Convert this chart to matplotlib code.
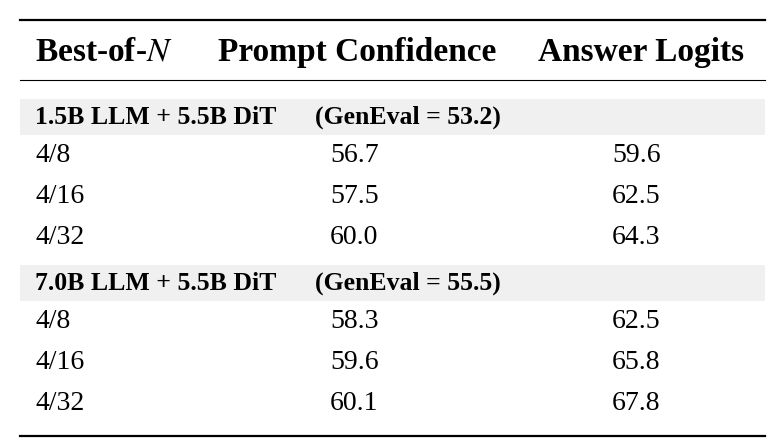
import matplotlib.pyplot as plt
from matplotlib.patches import Rectangle

plt.rcParams['font.family'] = ['Liberation Serif', 'DejaVu Serif']
plt.rcParams['mathtext.fontset'] = 'stix'

columns = ["Best-of-$N$", "Prompt Confidence", "Answer Logits"]
groups = ["1.5B LLM + 5.5B DiT", "7.0B LLM + 5.5B DiT"]
geneval = [53.2, 55.5]
best_of_n = ["4/8", "4/16", "4/32"]
prompt_conf = [[56.7, 57.5, 60.0], [58.3, 59.6, 60.1]]
answer_logits = [[59.6, 62.5, 64.3], [62.5, 65.8, 67.8]]

fig = plt.figure(figsize=(7.82, 4.48), dpi=100)
ax = fig.add_axes([0, 0, 1, 1])
ax.set_xlim(0, 782)
ax.set_ylim(448, 0)
ax.axis("off")

left, right = 20, 765
ax.plot([left, right], [20, 20], color="black", lw=1.6)
ax.plot([left, right], [80, 80], color="black", lw=0.8)
ax.plot([left, right], [436, 436], color="black", lw=1.6)

header_x = [35, 218, 538]
for x, c in zip(header_x, columns):
    ax.text(x, 52, c, fontsize=24, fontweight="bold", va="center", ha="left")

group_y = [117, 283]
row_step = 41.5
for g, name in enumerate(groups):
    gy = group_y[g]
    ax.add_patch(Rectangle((left, gy - 18), right - left, 36, color="#f0f0f0", lw=0))
    ax.text(35, gy, name, fontsize=18.5, fontweight="bold", va="center")
    ax.text(315, gy, f"(GenEval = {geneval[g]})", fontsize=18.5, fontweight="bold", va="center")
    for i, n in enumerate(best_of_n):
        y = gy + 38 + i * row_step
        ax.text(35, y, n, fontsize=20, va="center")
        ax.text(330, y, f"{prompt_conf[g][i]:.1f}", fontsize=20, va="center")
        ax.text(612, y, f"{answer_logits[g][i]:.1f}", fontsize=20, va="center")

fig.savefig("out.png", dpi=100)
